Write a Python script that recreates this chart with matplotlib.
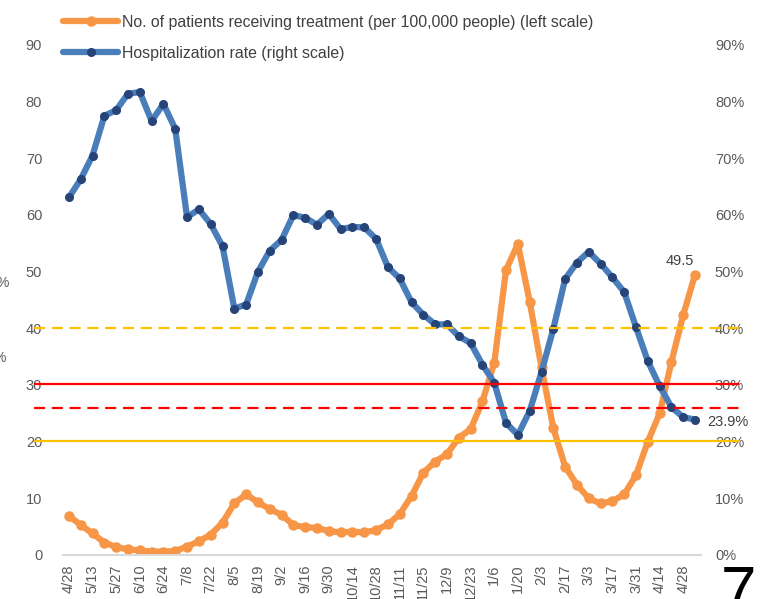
import matplotlib
matplotlib.use('Agg')
import matplotlib.pyplot as plt
from matplotlib.ticker import FuncFormatter

plt.rcParams['font.family'] = ['Liberation Sans', 'DejaVu Sans']

# weekly data points, a date label every two weeks
tick_labels = ['4/28', '5/13', '5/27', '6/10', '6/24', '7/8', '7/22', '8/5', '8/19',
               '9/2', '9/16', '9/30', '10/14', '10/28', '11/11', '11/25', '12/9',
               '12/23', '1/6', '1/20', '2/3', '2/17', '3/3', '3/17', '3/31', '4/14', '4/28']

patients = [6.9, 5.3, 3.8, 2.2, 1.4, 1.0, 0.8, 0.6, 0.6, 0.7,
            1.5, 2.4, 3.6, 5.7, 9.1, 10.7, 9.3, 8.1, 7.1, 5.3,
            4.9, 4.8, 4.2, 4.0, 4.1, 4.0, 4.4, 5.4, 7.2, 10.4,
            14.5, 16.5, 17.8, 20.7, 22.2, 27.1, 33.9, 50.3, 54.9, 44.7,
            33.1, 22.4, 15.6, 12.4, 10.0, 9.1, 9.5, 10.7, 14.1, 20.0,
            25.0, 34.1, 42.4, 49.5]

hosp_rate = [63.1, 66.3, 70.5, 77.5, 78.5, 81.4, 81.7, 76.6, 79.6, 75.2,
             59.6, 61.0, 58.4, 54.5, 43.5, 44.2, 50.0, 53.7, 55.6, 60.0,
             59.5, 58.3, 60.2, 57.5, 57.9, 57.8, 55.8, 50.8, 48.8, 44.6,
             42.4, 40.7, 40.7, 38.6, 37.4, 33.6, 30.4, 23.3, 21.2, 25.4,
             32.3, 39.9, 48.7, 51.6, 53.5, 51.4, 49.0, 46.4, 40.2, 34.2,
             29.8, 26.1, 24.3, 23.9]

# reference levels (left scale)
ref_levels = [40.1, 30.2, 26.0, 20.2]
ref_colors = ['#FFC000', '#FF0000', '#FF0000', '#FFC000']
ref_styles = [(0, (5, 3)), '-', (0, (5, 3)), '-']

x = list(range(len(patients)))
grey = '#595959'

fig = plt.figure(figsize=(7.6, 5.99), dpi=100)
ax = fig.add_axes([63 / 760, 44 / 599, 638 / 760, 510 / 599])
ax2 = ax.twinx()

ax.plot(x, patients, color='#F79646', lw=4.5, marker='o', ms=6.5,
        mfc='#F79646', mec='#F79646', zorder=2, solid_capstyle='round',
        label='No. of patients receiving treatment (per 100,000 people) (left scale)')
ax2.plot(x, hosp_rate, color='#4A7EBB', lw=4.5, marker='o', ms=5.5,
         mfc='#264478', mec='#264478', zorder=2, solid_capstyle='round',
         label='Hospitalization rate (right scale)')

for lvl, c, ls in zip(ref_levels, ref_colors, ref_styles):
    ax2.hlines(lvl, -0.045, 1.06, colors=c, linestyles=ls, lw=1.6,
               transform=ax2.get_yaxis_transform(), clip_on=False, zorder=5)

ax.set_xlim(-0.5, len(x) - 0.5)
ax.set_ylim(0, 90)
ax2.set_ylim(0, 90)
ax.set_yticks(range(0, 91, 10))
ax2.set_yticks(range(0, 91, 10))
ax2.yaxis.set_major_formatter(FuncFormatter(lambda v, p: f'{v:.0f}%'))

ax.set_xticks(x[::2])
ax.set_xticklabels(tick_labels, rotation=90, va='top')

for a in (ax, ax2):
    for s in a.spines.values():
        s.set_visible(False)
    a.tick_params(axis='both', length=0, labelsize=10.5, labelcolor=grey)
ax.spines['bottom'].set_visible(True)
ax.spines['bottom'].set_color('#D9D9D9')
ax.spines['bottom'].set_linewidth(1.5)
ax.tick_params(axis='y', pad=15)
ax.tick_params(axis='x', pad=7)
ax2.tick_params(axis='y', pad=10)

ax.annotate(f'{patients[-1]:.1f}', (x[-1], patients[-1]), xytext=(-11, 5),
            textcoords='offset points', ha='center', va='bottom',
            fontsize=10.5, color='#404040')
ax2.annotate(f'{hosp_rate[-1]:.1f}%', (x[-1], hosp_rate[-1]), xytext=(9, -2),
             textcoords='offset points', ha='left', va='center',
             fontsize=10.5, color='#404040')

h1, l1 = ax.get_legend_handles_labels()
h2, l2 = ax2.get_legend_handles_labels()
fig.legend(h1 + h2, l1 + l2, loc='upper left', bbox_to_anchor=(63 / 760, 1 - 15 / 599),
           frameon=False, fontsize=11.4, handlelength=3.5, handletextpad=0.25,
           labelspacing=1.0, borderpad=0, borderaxespad=0, labelcolor='#404040')

# fragments cut off at the edges of the slide
fig.text(-0.004, 1 - 283 / 599, '%', fontsize=10, color=grey, va='center')
fig.text(-0.008, 1 - 358 / 599, '%', fontsize=10, color=grey, va='center')
fig.text(721 / 760, 1 - 565 / 599, '7', fontsize=46, color='black', va='top', ha='left')

fig.savefig('out.png', dpi=100)
